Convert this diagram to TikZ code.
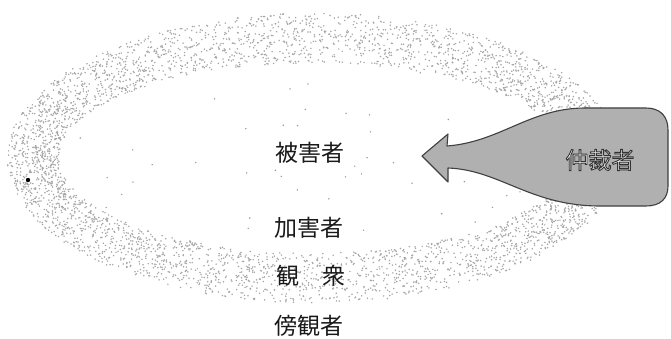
\documentclass[tikz,border=0pt]{standalone}
\usepackage{fontspec}
\newfontfamily\jp{Noto Sans CJK JP}
\newcommand{\outlinedtext}[1]{\textcolor{white}{\special{pdf:literal direct 2 Tr 0.9 w 0.2 G}#1\special{pdf:literal direct 0 Tr}}}
\begin{document}
\begin{tikzpicture}[x=1pt,y=-1pt,
  label/.style={font=\jp\fontsize{23}{25}\selectfont, inner sep=0pt, text=black!90},
  mediator/.style={draw=black!75, line width=1.1pt, fill=gray!62, line join=round},
  ringdot/.style={fill=gray!70}]
\useasboundingbox (0,0) rectangle (671,339);
% stippled ring
\pgfmathsetseed{11}
\foreach \i in {1,...,4600}{
  \pgfmathsetmacro\a{rnd*360}
  \pgfmathsetmacro\t{rnd}
  \pgfmathsetmacro\px{314+(255+52*\t)*cos(\a)}
  \pgfmathsetmacro\py{158+(95+50*\t)*sin(\a)}
  \fill[ringdot] (\px,\py) circle[radius=0.85];
}
% sparse stray dots
\foreach \i in {1,...,45}{
  \pgfmathsetmacro\a{rnd*360}
  \pgfmathsetmacro\t{rnd}
  \pgfmathsetmacro\px{314+(40+230*\t)*cos(\a)}
  \pgfmathsetmacro\py{158+(20+90*\t)*sin(\a)}
  \fill[gray!80] (\px,\py) circle[radius=0.8];
}
\fill[black] (28,180) circle[radius=2.2];
% mediator arrow
\draw[mediator] (422,156) -- (448,134) -- (447,146)
  .. controls (500,142) and (530,108) .. (585,108) -- (646,108)
  .. controls (660,108) and (668,116) .. (668,130) -- (668,186)
  .. controls (668,199) and (660,206) .. (646,206) -- (600,206)
  .. controls (530,206) and (500,170) .. (448,168) -- (448,182) -- cycle;
\node[label] (med) at (600,160) {\outlinedtext{仲裁者}};
% roles
\node[label] (victim) at (310,153) {被害者};
\node[label] (bully) at (309,228) {加害者};
\node[label] (audience) at (311,276) {観　衆};
\node[label] (bystander) at (309,326) {傍観者};
\end{tikzpicture}
\end{document}
